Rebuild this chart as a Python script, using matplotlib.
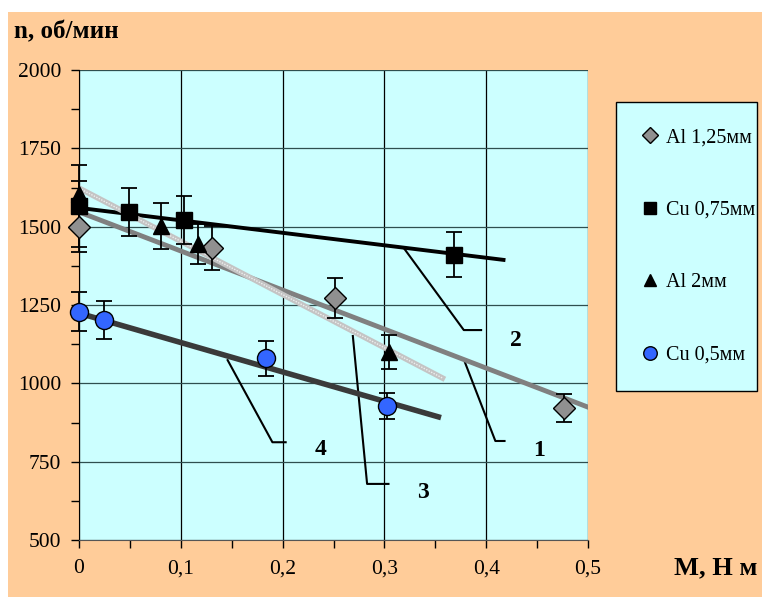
import matplotlib
matplotlib.use("Agg")
import matplotlib.pyplot as plt
from matplotlib.patches import Rectangle

plt.rcParams['font.family'] = ['Liberation Serif', 'DejaVu Serif']

# Данные
al125_x = [0, 0.131, 0.251, 0.476]
al125_y = [1500, 1432, 1272, 921]
al125_err = [80, 70, 63, 45]

cu075_x = [0, 0.049, 0.103, 0.368]
cu075_y = [1566, 1547, 1521, 1410]
cu075_err = [130, 77, 77, 72]

al2_x = [0, 0.081, 0.117, 0.305]
al2_y = [1605, 1502, 1445, 1100]
al2_err = [40, 72, 65, 55]

cu05_x = [0, 0.025, 0.184, 0.303]
cu05_y = [1228, 1203, 1080, 928]
cu05_err = [62, 60, 55, 42]

# Линии тренда
line1_x = [0, 0.5]
line1_y = [1547, 924]
line2_x = [0, 0.417]
line2_y = [1560, 1394]
line3_x = [0, 0.357]
line3_y = [1623, 1017]
line4_x = [0, 0.353]
line4_y = [1224, 893]

# Выноски и номера
leaders = {
    "1": ([0.379, 0.409, 0.418], [1068, 816, 816], (0.452, 787)),
    "2": ([0.319, 0.378, 0.395], [1432, 1170, 1170], (0.429, 1138)),
    "3": ([0.269, 0.283, 0.304], [1151, 679, 679], (0.338, 650)),
    "4": ([0.146, 0.190, 0.203], [1074, 812, 812], (0.237, 790)),
}

peach = '#FFCC99'
cyan = '#CCFFFF'

fig = plt.figure(figsize=(7.62, 5.97), dpi=100, facecolor='white')
fig.patches.append(Rectangle((8 / 762, 0), 1, 1 - 12 / 597, transform=fig.transFigure,
                             facecolor=peach, edgecolor='none', zorder=-10))
ax = fig.add_axes([79 / 762, 1 - 540 / 597, 509 / 762, 470 / 597])
ax.set_facecolor(cyan)

ax.set_xlim(0, 0.5)
ax.set_ylim(500, 2000)
ax.set_xticks([0, 0.1, 0.2, 0.3, 0.4, 0.5])
ax.set_xticklabels(['0', '0,1', '0,2', '0,3', '0,4', '0,5'])
ax.set_xticks([0.05, 0.15, 0.25, 0.35, 0.45], minor=True)
ax.set_yticks([500, 750, 1000, 1250, 1500, 1750, 2000])
ax.set_yticks([625, 875, 1125, 1375, 1625, 1875], minor=True)
ax.tick_params(which='both', direction='out', length=6, width=1, labelsize=15.5, pad=7)
ax.tick_params(axis='x', pad=8)
for s in ['top', 'right']:
    ax.spines[s].set_visible(False)
ax.spines['left'].set_color('black')
ax.spines['bottom'].set_color('#555555')
ax.xaxis.grid(True, color='black', lw=0.9)
ax.yaxis.grid(True, color='#2f4f4f', lw=0.9)
ax.set_axisbelow(True)

# Линии
ax.plot(line2_x, line2_y, color='black', lw=2.8, zorder=3)
ax.plot(line1_x, line1_y, color='#808080', lw=3.5, zorder=3)
ax.plot(line3_x, line3_y, color='#c4c4c4', lw=4, zorder=3)
ax.plot(line3_x, line3_y, color='#eeeeee', lw=1, ls=(0, (1, 1)), zorder=3)
ax.plot(line4_x, line4_y, color='#3a3a3a', lw=4, zorder=3)

for num, (lx, ly, (tx, ty)) in leaders.items():
    ax.plot(lx, ly, color='black', lw=1.5, zorder=2)
    ax.text(tx, ty, num, fontsize=17, fontweight='bold', ha='center', va='center')

# Погрешности
for xs, ys, es in [(al125_x, al125_y, al125_err), (cu075_x, cu075_y, cu075_err),
                   (al2_x, al2_y, al2_err), (cu05_x, cu05_y, cu05_err)]:
    ax.errorbar(xs, ys, yerr=es, fmt='none', ecolor='black', elinewidth=1.3,
                capsize=6, capthick=1.3, zorder=4, clip_on=False)

h1, = ax.plot(al125_x, al125_y, 'D', ms=11, mfc='#909090', mec='black', mew=1,
              ls='none', label='Al 1,25мм', zorder=5, clip_on=False)
h2, = ax.plot(cu075_x, cu075_y, 's', ms=12, mfc='black', mec='black',
              ls='none', label='Cu 0,75мм', zorder=5, clip_on=False)
h3, = ax.plot(al2_x, al2_y, '^', ms=11, mfc='black', mec='black',
              ls='none', label='Al 2мм', zorder=5, clip_on=False)
h4, = ax.plot(cu05_x, cu05_y, 'o', ms=13, mfc='#3366ff', mec='black', mew=1,
              ls='none', label='Cu 0,5мм', zorder=5, clip_on=False)

leg = fig.legend(handles=[h1, h2, h3, h4], loc='upper left',
                 bbox_to_anchor=(616 / 762, 1 - 102 / 597, 141 / 762, 0),
                 mode='expand', borderaxespad=0, fontsize=14.5, labelspacing=2.65,
                 borderpad=1.3, handlelength=0.8, handletextpad=0.4, markerscale=0.75,
                 fancybox=False, framealpha=1)
leg.get_frame().set_facecolor(cyan)
leg.get_frame().set_edgecolor('black')
leg.get_frame().set_linewidth(1)

fig.text(14 / 762, 1 - 32 / 597, 'n, об/мин', fontsize=18, fontweight='bold',
         ha='left', va='center')
fig.text(757 / 762, 1 - 568 / 597, 'M, Н м', fontsize=19, fontweight='bold',
         ha='right', va='center')

fig.savefig('out.png', dpi=100, facecolor=fig.get_facecolor())
